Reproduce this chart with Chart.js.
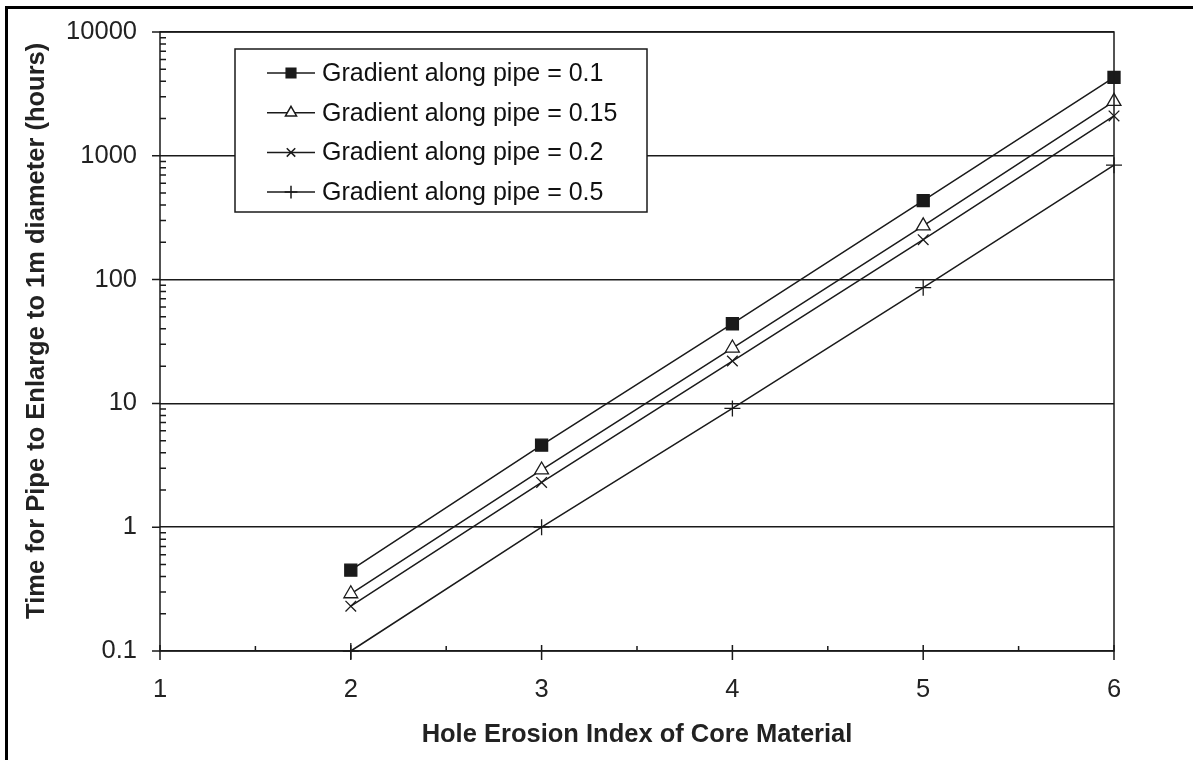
<!DOCTYPE html>
<html>
<head>
<meta charset="utf-8">
<title>Pipe enlargement time vs hole erosion index</title>
<script src="https://cdn.jsdelivr.net/npm/chart.js@4.4.0/dist/chart.umd.min.js"></script>
<style>
  html, body { margin: 0; padding: 0; background: #fff; }
  #wrap { position: relative; width: 1193px; height: 760px; overflow: hidden; }
  #frame { position: absolute; left: 5px; top: 6px; right: -10px; bottom: -10px;
           border-top: 3px solid #000; border-left: 3px solid #000; pointer-events: none; }
  #chart { position: absolute; left: 0; top: 0; }
</style>
</head>
<body>
<div id="wrap">
  <canvas id="chart" width="1193" height="760"></canvas>
  <div id="frame"></div>
</div>
<script>
// erosion index on x, hours on a log y axis
const erosionIndex = [2, 3, 4, 5, 6];
const grad010 = [0.45, 4.6, 44, 435, 4300];
const grad015 = [0.29, 2.9, 28, 272, 2750];
const grad020 = [0.23, 2.3, 22, 210, 2100];
const grad050 = [0.1, 1.0, 9.1, 86, 840];
const seriesNames = [
  'Gradient along pipe = 0.1',
  'Gradient along pipe = 0.15',
  'Gradient along pipe = 0.2',
  'Gradient along pipe = 0.5'
];
const xTicks = [1, 2, 3, 4, 5, 6];
const xMinorTicks = [1.5, 2.5, 3.5, 4.5, 5.5];
const yTicks = [0.1, 1, 10, 100, 1000, 10000];

const INK = '#1a1a1a';
Chart.defaults.font.family = '"Liberation Sans", Arial, sans-serif';
Chart.defaults.color = '#222';

function pairs(ys) {
  return erosionIndex.map((x, i) => ({ x, y: ys[i] }));
}

function series(label, ys, style, radius, fill) {
  return {
    label,
    data: pairs(ys),
    borderColor: INK,
    borderWidth: 1.5,
    pointStyle: style,
    pointRadius: radius,
    pointHoverRadius: radius,
    pointBorderColor: INK,
    pointBorderWidth: 1.3,
    pointBackgroundColor: fill,
    tension: 0,
    clip: false
  };
}

// tick marks, plot frame and the boxed legend
const decorations = {
  id: 'decorations',
  afterDatasetsDraw(chart) {
    const { ctx, chartArea: a } = chart;
    const xs = chart.scales.x, ys = chart.scales.y;
    ctx.save();
    ctx.strokeStyle = INK;
    ctx.lineWidth = 1.5;
    ctx.strokeRect(a.left, a.top, a.right - a.left, a.bottom - a.top);

    ctx.beginPath();
    yTicks.forEach(v => {
      const y = ys.getPixelForValue(v);
      ctx.moveTo(a.left - 8, y); ctx.lineTo(a.left, y);
    });
    yTicks.slice(0, -1).forEach(d => {
      for (let m = 2; m <= 9; m++) {
        const y = ys.getPixelForValue(d * m);
        ctx.moveTo(a.left, y); ctx.lineTo(a.left + 6, y);
      }
    });
    xTicks.forEach(v => {
      const x = xs.getPixelForValue(v);
      ctx.moveTo(x, a.bottom - 6); ctx.lineTo(x, a.bottom + 9);
    });
    xMinorTicks.forEach(v => {
      const x = xs.getPixelForValue(v);
      ctx.moveTo(x, a.bottom - 5); ctx.lineTo(x, a.bottom);
    });
    ctx.stroke();

    // legend box
    const bx = a.left + 75, by = a.top + 17, bw = 412, bh = 163;
    ctx.fillStyle = '#fff';
    ctx.fillRect(bx, by, bw, bh);
    ctx.strokeRect(bx, by, bw, bh);
    ctx.font = '25px "Liberation Sans", Arial, sans-serif';
    ctx.textBaseline = 'middle';
    chart.data.datasets.forEach((ds, i) => {
      const rowY = by + 24 + i * 39.7;
      ctx.strokeStyle = INK;
      ctx.lineWidth = 1.5;
      ctx.beginPath();
      ctx.moveTo(bx + 32, rowY); ctx.lineTo(bx + 80, rowY);
      ctx.stroke();
      ctx.fillStyle = ds.pointBackgroundColor;
      Chart.helpers.drawPoint(ctx, {
        pointStyle: ds.pointStyle,
        radius: ds.pointRadius * 0.8,
        borderWidth: ds.pointBorderWidth,
        rotation: 0
      }, bx + 56, rowY);
      ctx.fillStyle = '#111';
      ctx.fillText(ds.label, bx + 87, rowY + 1);
    });
    ctx.restore();
  }
};

new Chart(document.getElementById('chart'), {
  type: 'line',
  data: {
    datasets: [
      series(seriesNames[0], grad010, 'rect', 8.5, INK),
      series(seriesNames[1], grad015, 'triangle', 8, '#fff'),
      series(seriesNames[2], grad020, 'crossRot', 7.5, INK),
      series(seriesNames[3], grad050, 'cross', 8, INK)
    ]
  },
  options: {
    responsive: false,
    animation: false,
    layout: { padding: { top: 32, right: 79, left: 0, bottom: 0 } },
    plugins: { legend: { display: false }, tooltip: { enabled: false } },
    scales: {
      x: {
        type: 'linear',
        min: 1,
        max: 6,
        afterBuildTicks: s => { s.ticks = xTicks.map(v => ({ value: v })); },
        afterFit: s => { s.height = 109; },
        grid: { display: false, drawTicks: false },
        border: { display: false },
        ticks: { padding: 24, font: { size: 25.5 }, color: '#222' },
        title: {
          display: true,
          text: 'Hole Erosion Index of Core Material',
          font: { size: 25.5, weight: 'bold' },
          color: '#222',
          padding: { top: 0, bottom: 10 }
        }
      },
      y: {
        type: 'logarithmic',
        min: 0.1,
        max: 10000,
        afterBuildTicks: s => { s.ticks = yTicks.map(v => ({ value: v })); },
        afterFit: s => {
          s.width = 160;
          s.paddingTop = 8;
          s.paddingBottom = 8;
        },
        grid: { color: INK, lineWidth: 1.5, drawTicks: false },
        border: { display: false },
        ticks: {
          padding: 23,
          font: { size: 25.5 },
          color: '#222',
          callback: v => String(v)
        },
        title: {
          display: true,
          text: '   Time for Pipe to Enlarge to 1m diameter (hours)',
          font: { size: 25.5, weight: 'bold' },
          color: '#222',
          padding: { top: 22, bottom: 0 }
        }
      }
    }
  },
  plugins: [decorations]
});
</script>
</body>
</html>
